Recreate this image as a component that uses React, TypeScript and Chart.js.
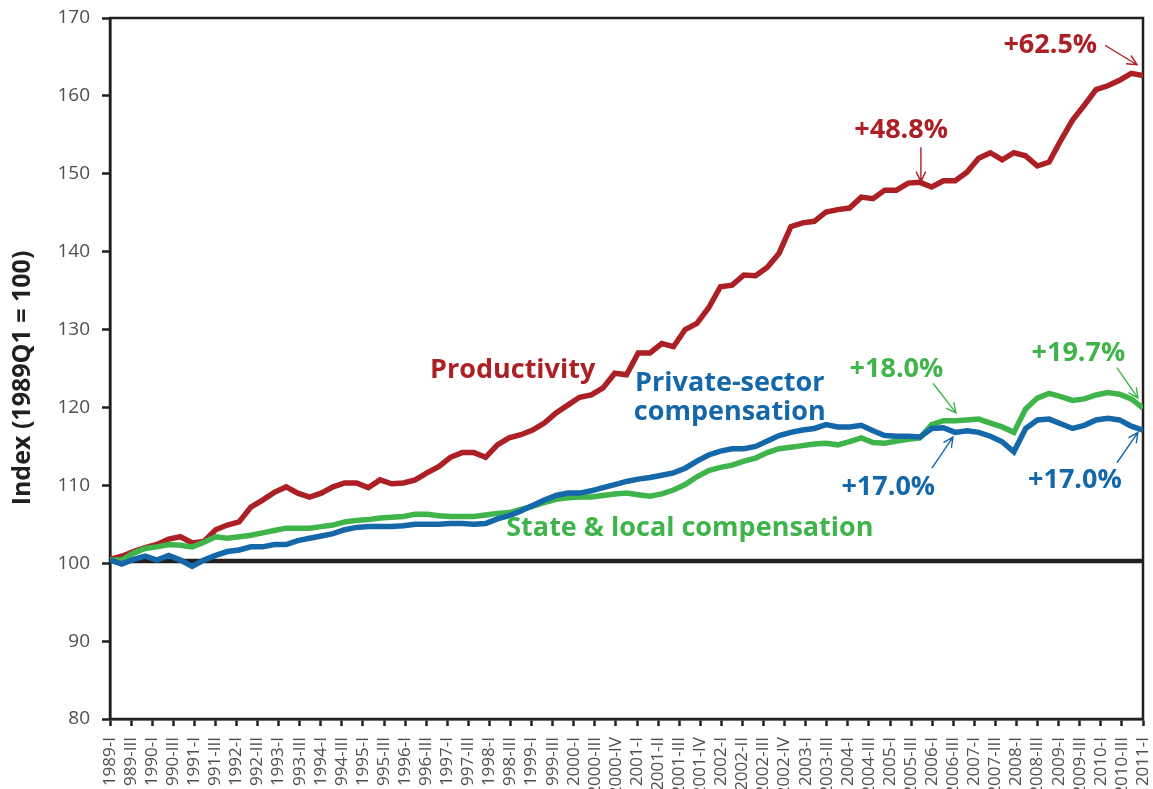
import React, { useEffect, useRef } from "react";
import { Chart, registerables } from "chart.js";

Chart.register(...registerables);

// ---------- data ----------
const TICK_LABELS = [
  "1989-I", "1989-III", "1990-I", "1990-III", "1991-I", "1991-III", "1992-I", "1992-III",
  "1993-I", "1993-III", "1994-I", "1994-III", "1995-I", "1995-III", "1996-I", "1996-III",
  "1997-I", "1997-III", "1998-I", "1998-III", "1999-I", "1999-III", "2000-I", "2000-III",
  "2000-IV", "2001-I", "2001-II", "2001-III", "2001-IV", "2002-I", "2002-II", "2002-III",
  "2002-IV", "2003-I", "2003-III", "2004-I", "2004-III", "2005-I", "2005-III", "2006-I",
  "2006-III", "2007-I", "2007-III", "2008-I", "2008-III", "2009-I", "2009-III", "2010-I",
  "2010-III", "2011-I",
];

// quarterly index values, 1989Q1 .. 2011Q1
const PRODUCTIVITY = [
  100.5, 100.9, 101.5, 102.0, 102.4, 103.1, 103.4, 102.6, 102.8, 104.3,
  104.9, 105.3, 107.2, 108.1, 109.1, 109.8, 109.0, 108.5, 109.0, 109.8,
  110.3, 110.3, 109.7, 110.7, 110.2, 110.3, 110.7, 111.6, 112.4, 113.6,
  114.2, 114.2, 113.6, 115.2, 116.1, 116.5, 117.1, 118.0, 119.3, 120.3,
  121.3, 121.6, 122.5, 124.4, 124.2, 127.0, 127.0, 128.2, 127.8, 130.0,
  130.8, 132.8, 135.5, 135.7, 137.0, 136.9, 138.0, 139.8, 143.2, 143.7,
  143.9, 145.1, 145.4, 145.6, 147.0, 146.8, 147.9, 147.9, 148.8, 148.9,
  148.3, 149.1, 149.1, 150.2, 152.0, 152.7, 151.8, 152.7, 152.3, 151.0,
  151.5, 154.3, 156.9, 158.8, 160.8, 161.3, 162.0, 162.9, 162.6,
];

const PRIVATE_COMP = [
  100.4, 99.9, 100.5, 100.9, 100.4, 101.0, 100.4, 99.6, 100.4, 101.0,
  101.5, 101.7, 102.1, 102.1, 102.4, 102.4, 102.9, 103.2, 103.5, 103.8,
  104.3, 104.6, 104.7, 104.7, 104.7, 104.8, 105.0, 105.0, 105.0, 105.1,
  105.1, 105.0, 105.1, 105.7, 106.1, 106.7, 107.4, 108.1, 108.7, 109.0,
  109.0, 109.3, 109.7, 110.1, 110.5, 110.8, 111.0, 111.3, 111.6, 112.2,
  113.1, 113.9, 114.4, 114.7, 114.7, 115.0, 115.7, 116.4, 116.8, 117.1,
  117.3, 117.8, 117.5, 117.5, 117.7, 117.0, 116.4, 116.3, 116.3, 116.2,
  117.3, 117.4, 116.8, 117.0, 116.8, 116.3, 115.6, 114.3, 117.3, 118.4,
  118.5, 117.9, 117.3, 117.7, 118.4, 118.6, 118.4, 117.6, 117.1,
];

const STATE_LOCAL_COMP = [
  100.4, 100.4, 101.3, 101.9, 102.1, 102.4, 102.3, 102.1, 102.7, 103.4,
  103.2, 103.4, 103.6, 103.9, 104.2, 104.5, 104.5, 104.5, 104.7, 104.9,
  105.3, 105.5, 105.6, 105.8, 105.9, 106.0, 106.3, 106.3, 106.1, 106.0,
  106.0, 106.0, 106.2, 106.4, 106.5, 106.9, 107.3, 107.8, 108.2, 108.4,
  108.5, 108.5, 108.7, 108.9, 109.0, 108.8, 108.6, 108.9, 109.4, 110.1,
  111.1, 111.9, 112.3, 112.6, 113.1, 113.5, 114.2, 114.7, 114.9, 115.1,
  115.3, 115.4, 115.2, 115.6, 116.1, 115.5, 115.4, 115.7, 115.9, 116.1,
  117.8, 118.3, 118.3, 118.4, 118.5, 118.0, 117.5, 116.8, 119.8, 121.2,
  121.8, 121.4, 120.9, 121.1, 121.6, 121.9, 121.7, 121.1, 119.9,
];

const BASELINE = 100.3;
const Y_TICKS = [80, 90, 100, 110, 120, 130, 140, 150, 160, 170];

// ---------- styles ----------
const RED = "#ab1f25";
const BLUE = "#1467a9";
const GREEN = "#3fb44a";
const INK = "#231f20";
const TICK_GREY = "#4f4f4f";
const FONT = '"Open Sans", "Noto Sans", sans-serif';

// annotations positioned in data units: q = quarter index, v = index value
const TEXT_NOTES = [
  { lines: ["Productivity"], color: RED, q: 34.3, v: 124.8 },
  { lines: ["Private-sector", "compensation"], color: BLUE, q: 52.8, v: 121.3 },
  { lines: ["State & local compensation"], color: GREEN, q: 49.4, v: 104.5 },
  { lines: ["+48.8%"], color: RED, q: 67.4, v: 155.6 },
  { lines: ["+62.5%"], color: RED, q: 80.1, v: 166.5 },
  { lines: ["+18.0%"], color: GREEN, q: 67.0, v: 124.9 },
  { lines: ["+19.7%"], color: GREEN, q: 82.5, v: 126.9 },
  { lines: ["+17.0%"], color: BLUE, q: 66.3, v: 109.8 },
  { lines: ["+17.0%"], color: BLUE, q: 82.2, v: 110.6 },
];

const ARROWS = [
  { color: RED, from: [69.08, 153.4], to: [69.08, 149.0] },
  { color: RED, from: [84.76, 166.5], to: [87.49, 164.0] },
  { color: GREEN, from: [70.11, 123.1], to: [72.07, 119.3] },
  { color: GREEN, from: [85.78, 125.1], to: [87.57, 121.2] },
  { color: BLUE, from: [70.02, 112.2], to: [71.81, 116.2] },
  { color: BLUE, from: [85.78, 112.9], to: [87.57, 116.8] },
];

const CANVAS_W = 1153;
const CANVAS_H = 830;
const PLOT_LEFT = 110;
const PLOT_TOP = 18;
const PLOT_BOTTOM = 719;
const PLOT_RIGHT_GAP = 10;

const toPoints = (arr: number[]) => arr.map((y, i) => ({ x: i, y }));

const annotationPlugin = {
  id: "annotations",
  beforeDatasetsDraw(chart: any) {
    const { ctx, chartArea } = chart;
    ctx.save();
    ctx.strokeStyle = INK;
    ctx.lineWidth = 2.5;
    ctx.strokeRect(chartArea.left, chartArea.top, chartArea.right - chartArea.left, chartArea.bottom - chartArea.top);
    ctx.restore();
  },
  afterDatasetsDraw(chart: any) {
    const { ctx, chartArea } = chart;
    const xs = chart.scales.x;
    const ys = chart.scales.y;
    ctx.save();
    // y axis title
    ctx.save();
    ctx.translate(chartArea.left - 87, 378);
    ctx.rotate(-Math.PI / 2);
    ctx.font = `bold 25px ${FONT}`;
    ctx.fillStyle = INK;
    ctx.textAlign = "center";
    ctx.textBaseline = "middle";
    ctx.fillText("Index (1989Q1 = 100)", 0, 0);
    ctx.restore();

    ctx.font = `bold 27px ${FONT}`;
    ctx.textAlign = "center";
    ctx.textBaseline = "middle";
    const lh = 29;
    TEXT_NOTES.forEach((n) => {
      const cx = xs.getPixelForValue(n.q);
      const cy = ys.getPixelForValue(n.v);
      ctx.fillStyle = n.color;
      const start = cy - ((n.lines.length - 1) * lh) / 2;
      n.lines.forEach((t, i) => ctx.fillText(t, cx, start + i * lh));
    });

    ctx.lineWidth = 1.4;
    ARROWS.forEach((a) => {
      const x1 = xs.getPixelForValue(a.from[0]);
      const y1 = ys.getPixelForValue(a.from[1]);
      const x2 = xs.getPixelForValue(a.to[0]);
      const y2 = ys.getPixelForValue(a.to[1]);
      ctx.strokeStyle = a.color;
      ctx.beginPath();
      ctx.moveTo(x1, y1);
      ctx.lineTo(x2, y2);
      const ang = Math.atan2(y2 - y1, x2 - x1);
      const L = 11;
      ctx.moveTo(x2 - L * Math.cos(ang - 0.45), y2 - L * Math.sin(ang - 0.45));
      ctx.lineTo(x2, y2);
      ctx.lineTo(x2 - L * Math.cos(ang + 0.45), y2 - L * Math.sin(ang + 0.45));
      ctx.stroke();
    });
    ctx.restore();
  },
};

export default function App() {
  const ref = useRef<HTMLCanvasElement | null>(null);

  useEffect(() => {
    if (!ref.current) return;
    const lastQ = PRODUCTIVITY.length - 1;
    const chart = new Chart(ref.current, {
      type: "line",
      data: {
        datasets: [
          {
            label: "Private-sector compensation",
            data: toPoints(PRIVATE_COMP),
            borderColor: BLUE,
            borderWidth: 5.5,
            pointRadius: 0,
            tension: 0,
            order: 1,
          },
          {
            label: "State & local compensation",
            data: toPoints(STATE_LOCAL_COMP),
            borderColor: GREEN,
            borderWidth: 5.5,
            pointRadius: 0,
            tension: 0,
            order: 2,
          },
          {
            label: "Productivity",
            data: toPoints(PRODUCTIVITY),
            borderColor: RED,
            borderWidth: 5.5,
            pointRadius: 0,
            tension: 0,
            order: 3,
          },
          {
            label: "Base",
            data: [
              { x: 0, y: BASELINE },
              { x: lastQ, y: BASELINE },
            ],
            borderColor: INK,
            borderWidth: 4.5,
            pointRadius: 0,
            order: 4,
          },
        ],
      },
      options: {
        responsive: false,
        animation: false,
        events: [],
        layout: { padding: { top: PLOT_TOP, right: PLOT_RIGHT_GAP, left: 0, bottom: 0 } },
        plugins: { legend: { display: false }, tooltip: { enabled: false } },
        scales: {
          x: {
            type: "linear",
            min: 0,
            max: lastQ,
            afterBuildTicks: (scale: any) => {
              scale.ticks = TICK_LABELS.map((_, i) => ({ value: (i * lastQ) / (TICK_LABELS.length - 1) }));
            },
            afterFit: (scale: any) => {
              scale.height = CANVAS_H - PLOT_BOTTOM;
              scale.paddingLeft = 0;
              scale.paddingRight = 0;
            },
            ticks: {
              autoSkip: false,
              maxRotation: 90,
              minRotation: 90,
              padding: 11,
              color: TICK_GREY,
              font: { family: FONT, size: 17 },
              callback: (_v: any, i: number) => TICK_LABELS[i],
            },
            grid: {
              display: true,
              drawOnChartArea: false,
              drawTicks: true,
              tickLength: 7,
              tickWidth: 2.5,
              tickColor: INK,
            },
            border: { display: true, color: INK, width: 2.5 },
          },
          y: {
            min: 80,
            max: 170,
            afterBuildTicks: (scale: any) => {
              scale.ticks = Y_TICKS.map((v) => ({ value: v }));
            },
            afterFit: (scale: any) => {
              scale.width = PLOT_LEFT;
              scale.paddingTop = 0;
              scale.paddingBottom = 0;
            },
            ticks: {
              padding: 12,
              color: TICK_GREY,
              font: { family: FONT, size: 19 },
            },
            grid: {
              display: true,
              drawOnChartArea: false,
              drawTicks: true,
              tickLength: 8,
              tickWidth: 2.5,
              tickColor: INK,
            },
            border: { display: true, color: INK, width: 2.5 },
          },
        },
      },
      plugins: [annotationPlugin],
    });
    return () => chart.destroy();
  }, []);

  return (
    <div
      style={{
        position: "fixed",
        left: 0,
        top: 0,
        width: CANVAS_W,
        height: 789,
        overflow: "hidden",
        background: "#ffffff",
      }}
    >
      <canvas ref={ref} width={CANVAS_W} height={CANVAS_H} style={{ display: "block" }} />
    </div>
  );
}
